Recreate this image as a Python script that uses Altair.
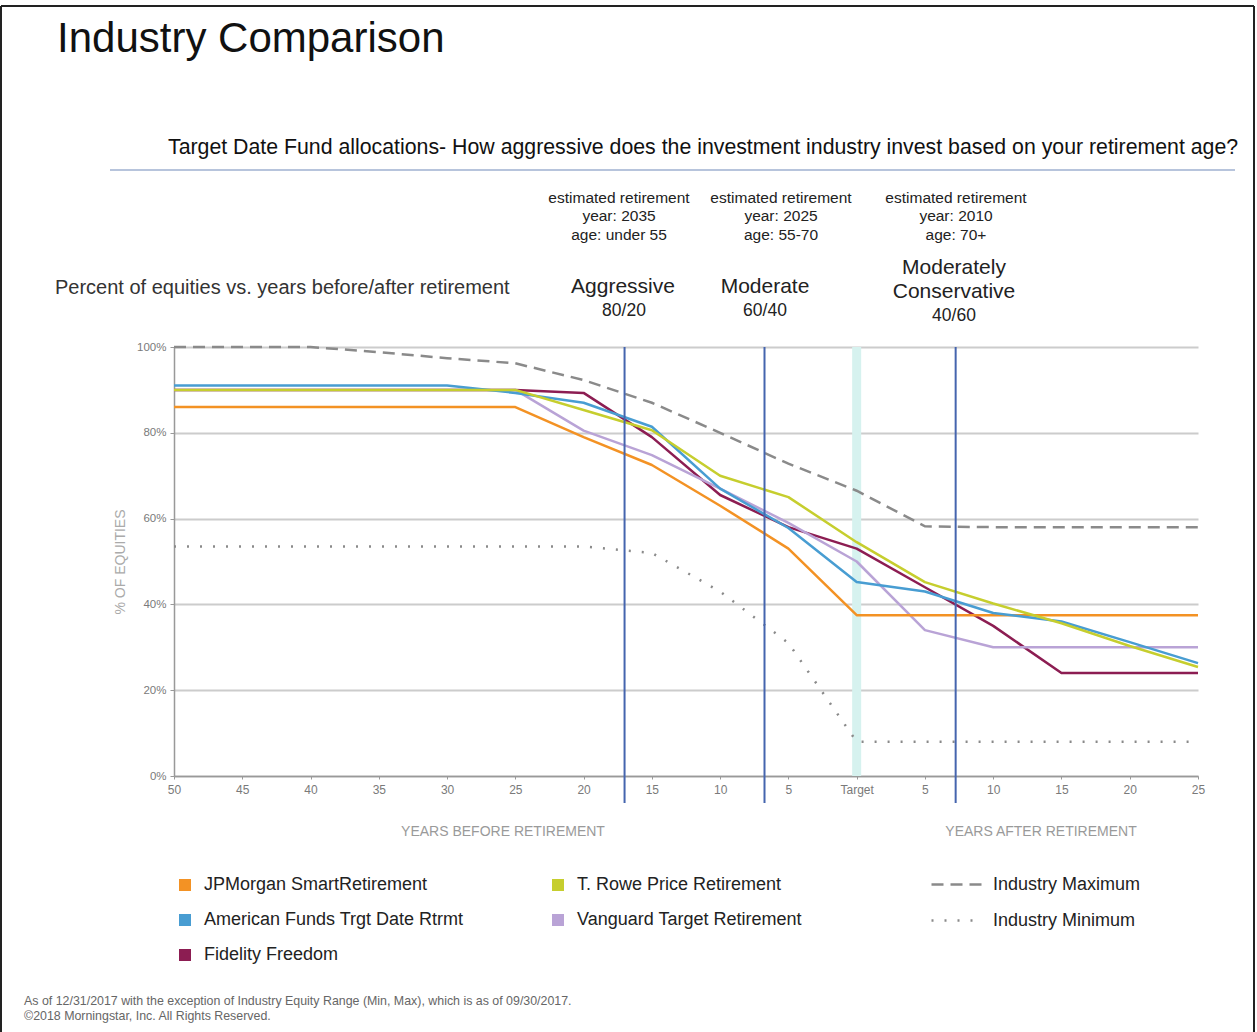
import altair as alt
import pandas as pd

# ---------------- data ----------------
years = [-50, -45, -40, -35, -30, -25, -20, -15, -10, -5, 0, 5, 10, 15, 20, 25]

jpmorgan = [86, 86, 86, 86, 86, 86, 79, 72.5, 63, 53, 37.5, 37.5, 37.5, 37.5, 37.5, 37.5]
american = [91, 91, 91, 91, 91, 89.3, 87, 81.4, 67, 57.8, 45.2, 43, 38, 36, 31.2, 26.3]
trowe = [90, 90, 90, 90, 90, 90, 85.3, 80.6, 70, 65, 54.5, 45.2, 40.2, 35.6, 30.3, 25.4]
fidelity = [90, 90, 90, 90, 90, 90, 89.3, 79, 65.5, 58, 53, 44, 35, 24, 24, 24]
vanguard = [90, 90, 90, 90, 90, 90, 80.5, 74.8, 67, 59, 50, 34, 30, 30, 30, 30]
industry_max = [100, 100, 100, 98.8, 97.4, 96.2, 92.3, 87, 80, 72.8, 66.5, 58.2, 58, 58, 58, 58]
industry_min = [53.5, 53.5, 53.5, 53.5, 53.5, 53.5, 53.5, 52, 43, 31, 8, 8, 8, 8, 8, 8]

fund_order = ["JPMorgan SmartRetirement", "American Funds Trgt Date Rtrmt",
              "Fidelity Freedom", "T. Rowe Price Retirement",
              "Vanguard Target Retirement"]
fund_colors = ["#F39224", "#489DD2", "#8C1D52", "#C6CE2E", "#B9A3D6"]
industry_order = ["Industry Maximum", "Industry Minimum"]

style_lines = [-17, -6.75, 7.25]      # allocation-style markers (years)
target_year = [0]

x_ticks = [-50, -45, -40, -35, -30, -25, -20, -15, -10, -5, 0, 5, 10, 15, 20, 25]
y_ticks = [0, 20, 40, 60, 80, 100]

# ---------------- tables ----------------
draw_order = [("Fidelity Freedom", fidelity), ("Vanguard Target Retirement", vanguard),
              ("JPMorgan SmartRetirement", jpmorgan),
              ("American Funds Trgt Date Rtrmt", american),
              ("T. Rowe Price Retirement", trowe)]
fund_rows = []
for i, (name, vals) in enumerate(draw_order):
    for yr, v in zip(years, vals):
        fund_rows.append({"series": name, "year": yr, "pct": v, "ord": i})
funds_df = pd.DataFrame(fund_rows)

ind_rows = []
for name, vals in [("Industry Maximum", industry_max), ("Industry Minimum", industry_min)]:
    for yr, v in zip(years, vals):
        ind_rows.append({"series": name, "year": yr, "pct": v})
ind_df = pd.DataFrame(ind_rows)

vl_df = pd.DataFrame({"year": style_lines, "top": [100] * 3, "bottom": [-6.3] * 3})
band_df = pd.DataFrame({"year": target_year, "top": [100], "bottom": [0]})

FONT = "Liberation Sans, Arial, sans-serif"

xscale = alt.Scale(domain=[-50, 25], nice=False, zero=False)
yscale = alt.Scale(domain=[0, 100], nice=False)
xaxis = alt.Axis(values=x_ticks, title=None, grid=False,
                 labelExpr="datum.value == 0 ? 'Target' : abs(datum.value)",
                 labelFont=FONT, labelFontSize=12, labelColor="#7a7a7a",
                 labelPadding=5, tickSize=3, tickColor="#999", domainColor="#999",
                 domainWidth=1.5, labelFlush=False)
yaxis = alt.Axis(values=y_ticks, title="% OF EQUITIES", grid=True,
                 gridColor="#cccccc", gridWidth=2,
                 labelExpr="datum.value + '%'", labelFont=FONT, labelFontSize=11.5,
                 labelColor="#7a7a7a", labelPadding=4, tickSize=4, tickColor="#999",
                 domainColor="#999", domainWidth=1.5,
                 titleFont=FONT, titleFontSize=14, titleColor="#aaaaaa",
                 titleFontWeight="normal", titlePadding=9)

X = alt.X("year:Q", scale=xscale, axis=xaxis)
Y = alt.Y("pct:Q", scale=yscale, axis=yaxis)

band = alt.Chart(band_df).mark_rule(color="#d6f2ef", strokeWidth=9).encode(
    x=alt.X("year:Q", scale=xscale, axis=xaxis),
    y=alt.Y("top:Q", scale=yscale, axis=yaxis),
    y2="bottom:Q")

fund_lines = alt.Chart(funds_df).mark_line(strokeWidth=2.5, strokeJoin="round").encode(
    x=X, y=Y,
    color=alt.Color("series:N",
                    scale=alt.Scale(domain=fund_order, range=fund_colors),
                    legend=alt.Legend(title=None, orient="none", legendX=2, legendY=529,
                                      columns=2, gridAlign="all", columnPadding=79,
                                      rowPadding=5, symbolType="square",
                                      symbolSize=36, symbolStrokeWidth=6,
                                      labelFont=FONT, labelFontSize=18,
                                      labelColor="#222", labelOffset=10,
                                      labelLimit=400, padding=0)),
    order=alt.Order("ord:Q"),
    detail="series:N")

ind_lines = alt.Chart(ind_df).mark_line(strokeWidth=2.5, color="#8a8a8a").encode(
    x=X, y=Y,
    strokeDash=alt.StrokeDash("series:N",
                              scale=alt.Scale(domain=industry_order,
                                              range=[[12, 7], [2, 11]]),
                              legend=alt.Legend(title=None, orient="none",
                                                legendX=756, legendY=511,
                                                symbolType="stroke", symbolSize=2500,
                                                symbolStrokeColor="#8a8a8a",
                                                symbolStrokeWidth=2.5,
                                                rowPadding=-15,
                                                labelFont=FONT, labelFontSize=18,
                                                labelColor="#222", labelOffset=10,
                                                labelLimit=400, padding=0)))

vlines = alt.Chart(vl_df).mark_rule(color="#4565ae", strokeWidth=2).encode(
    x=alt.X("year:Q", scale=xscale, axis=xaxis),
    y=alt.Y("top:Q", scale=yscale, axis=yaxis),
    y2="bottom:Q")


def txt(s, x, y, size, color="#222", align="center", baseline="middle"):
    return alt.Chart(pd.DataFrame({"t": [s]})).mark_text(
        font=FONT, fontSize=size, color=color, align=align, baseline=baseline
    ).encode(text="t:N", x=alt.value(x), y=alt.value(y))


texts = [
    txt("Industry Comparison", -117, -295, 42, "#111", "left", "alphabetic"),
    txt("Target Date Fund allocations- How aggressive does the investment industry invest based on your retirement age?",
        -6, -193, 21.3, "#111", "left", "alphabetic"),
    txt("Percent of equities vs. years before/after retirement", -119, -59, 20, "#333", "left"),
    txt("estimated retirement", 445, -149, 15.5),
    txt("year: 2035", 445, -131, 15.5),
    txt("age: under 55", 445, -112, 15.5),
    txt("estimated retirement", 607, -149, 15.5),
    txt("year: 2025", 607, -131, 15.5),
    txt("age: 55-70", 607, -112, 15.5),
    txt("estimated retirement", 782, -149, 15.5),
    txt("year: 2010", 782, -131, 15.5),
    txt("age: 70+", 782, -112, 15.5),
    txt("Aggressive", 449, -60, 21),
    txt("80/20", 450, -36, 17.5),
    txt("Moderate", 591, -60, 21),
    txt("60/40", 591, -36, 17.5),
    txt("Moderately", 780, -79, 21),
    txt("Conservative", 780, -55, 21),
    txt("40/60", 780, -31, 17.5),
    txt("YEARS BEFORE RETIREMENT", 329, 485, 14, "#9a9a9a"),
    txt("YEARS AFTER RETIREMENT", 867, 485, 14, "#9a9a9a"),
    txt("As of 12/31/2017 with the exception of Industry Equity Range (Min, Max), which is as of 09/30/2017.",
        -150, 654, 12.4, "#666", "left"),
    txt("\u00a92018 Morningstar, Inc. All Rights Reserved.", -150, 669, 12.4, "#666", "left"),
]

one = pd.DataFrame({"k": [0]})
separator = alt.Chart(one).mark_rule(color="#9fb0d0", strokeWidth=1.5).encode(
    x=alt.value(-64), x2=alt.value(1061), y=alt.value(-177))
frame_left = alt.Chart(one).mark_rule(color="#222", strokeWidth=2).encode(
    x=alt.value(-173), y=alt.value(-341), y2=alt.value(700))
frame_top = alt.Chart(one).mark_rule(color="#222", strokeWidth=2).encode(
    x=alt.value(-173), x2=alt.value(1080), y=alt.value(-341))
frame_right = alt.Chart(one).mark_rule(color="#222", strokeWidth=2).encode(
    x=alt.value(1080), y=alt.value(-341), y2=alt.value(700))

chart = alt.layer(
    band, ind_lines, fund_lines, vlines, separator, frame_left, frame_top, frame_right, *texts
).resolve_legend(color="independent", strokeDash="independent").properties(
    width=1024, height=429,
    autosize=alt.AutoSizeParams(type="none"),
    padding={"left": 174, "top": 347, "right": 59, "bottom": 256},
    background="white",
).configure_view(stroke=None)

chart.save("out.html", embed_options={"renderer": "svg", "actions": False})
